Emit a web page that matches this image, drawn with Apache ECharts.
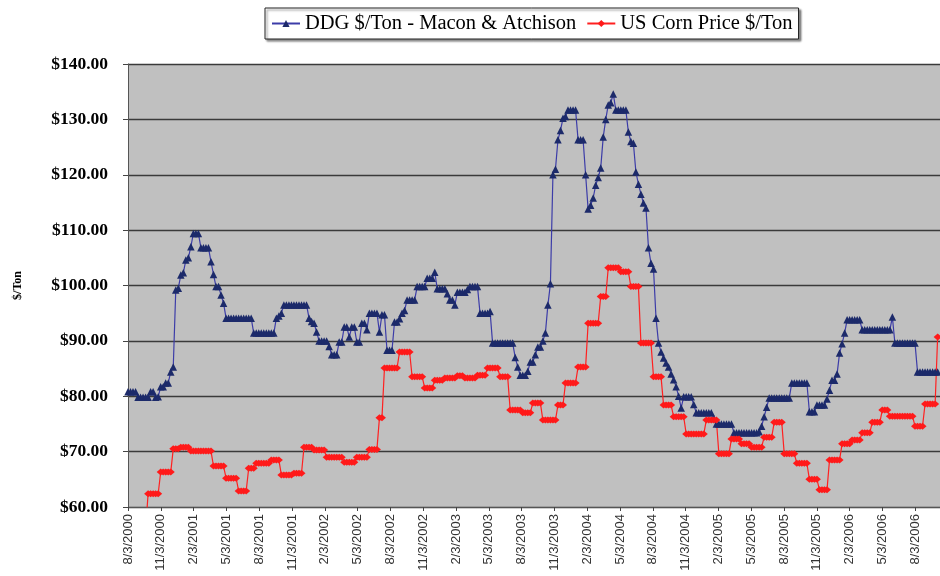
<!DOCTYPE html>
<html>
<head>
<meta charset="utf-8">
<script src="https://cdn.jsdelivr.net/npm/echarts@6/dist/echarts.min.js"></script>
<style>
html,body{margin:0;padding:0;background:#fff;}
#chart{width:940px;height:576px;}
</style>
</head>
<body>
<div id="chart"></div>
<script>
// Quarterly tick labels on the date axis
const tickLabels = ['8/3/2000','11/3/2000','2/3/2001','5/3/2001','8/3/2001','11/3/2001','2/3/2002','5/3/2002','8/3/2002','11/3/2002','2/3/2003','5/3/2003','8/3/2003','11/3/2003','2/3/2004','5/3/2004','8/3/2004','11/3/2004','2/3/2005','5/3/2005','8/3/2005','11/3/2005','2/3/2006','5/3/2006','8/3/2006'];
const seriesNames = ['DDG $/Ton - Macon & Atchison', 'US Corn Price $/Ton'];

// Weekly prices starting 8/3/2000
const ddgPrices = [
 80.8,80.8,80.8,80.8,79.8,79.8,79.8,79.8,79.8,80.8,
 80.8,79.8,79.9,81.7,81.7,82.4,82.4,84.4,85.3,99.2,
 99.5,101.9,102.3,104.6,105.0,107.0,109.4,109.4,109.4,106.8,
 106.8,106.8,106.8,104.3,102.0,99.8,99.8,98.3,96.8,94.1,
 94.1,94.1,94.1,94.1,94.1,94.1,94.1,94.1,94.1,94.1,
 91.4,91.4,91.4,91.4,91.4,91.4,91.4,91.4,91.4,94.1,
 94.5,95.0,96.5,96.5,96.5,96.5,96.5,96.5,96.5,96.5,
 96.5,96.5,94.1,93.5,93.2,91.6,90.0,90.0,90.0,90.0,
 89.0,87.5,87.5,87.5,89.8,89.8,92.5,92.5,90.7,92.5,
 92.5,89.8,89.8,93.2,93.2,92.0,95.0,95.0,95.0,95.0,
 91.6,94.7,94.7,88.3,88.3,88.3,93.4,93.4,94.0,95.0,
 95.5,97.4,97.4,97.4,97.4,99.8,99.8,99.8,99.8,101.3,
 101.3,101.3,102.4,99.4,99.4,99.4,99.4,98.5,97.4,97.4,
 96.5,98.8,98.8,98.8,98.8,99.3,99.8,99.8,99.8,99.8,
 95.0,95.0,95.0,95.0,95.3,89.6,89.6,89.6,89.6,89.6,
 89.6,89.6,89.6,89.6,87.0,85.3,83.8,83.8,83.8,84.5,
 86.2,86.2,87.5,88.9,88.9,90.0,91.4,96.5,100.3,120.0,
 121.0,126.3,128.0,130.2,130.5,131.7,131.7,131.7,131.7,126.3,
 126.3,126.3,120.0,113.8,114.5,115.8,118.1,119.5,121.2,126.8,
 130.0,132.6,133.0,134.6,131.7,131.7,131.7,131.7,131.7,127.7,
 126.0,125.7,120.5,118.3,116.5,114.9,114.0,106.8,104.0,103.0,
 94.1,89.6,88.0,86.9,86.0,85.3,84.0,83.0,81.7,80.0,
 77.9,79.9,79.9,79.9,79.9,78.5,77.0,77.0,77.0,77.0,
 77.0,77.0,77.0,76.0,75.0,75.0,75.0,75.0,75.0,75.0,
 75.0,73.4,73.4,73.4,73.4,73.4,73.4,73.4,73.4,73.4,
 73.4,73.6,74.6,76.3,78.0,79.7,79.7,79.7,79.7,79.7,
 79.7,79.7,79.7,79.7,82.4,82.4,82.4,82.4,82.4,82.4,
 82.4,77.2,77.2,77.2,78.4,78.4,78.4,78.4,79.5,81.1,
 82.9,82.9,84.0,87.8,89.5,91.4,93.8,93.8,93.8,93.8,
 93.8,93.8,92.0,92.0,92.0,92.0,92.0,92.0,92.0,92.0,
 92.0,92.0,92.0,92.0,94.3,89.6,89.6,89.6,89.6,89.6,
 89.6,89.6,89.6,89.6,84.4,84.4,84.4,84.4,84.4,84.4,
 84.4,84.4,84.4
];
const cornPrices = [
 null,null,null,null,null,null,null,56.0,62.4,62.4,
 62.4,62.4,62.4,66.3,66.3,66.3,66.3,66.3,70.5,70.5,
 70.5,70.8,70.8,70.8,70.8,70.1,70.1,70.1,70.1,70.1,
 70.1,70.1,70.1,70.1,67.4,67.4,67.4,67.4,67.4,65.2,
 65.2,65.2,65.2,65.2,62.9,62.9,62.9,62.9,67.0,67.0,
 67.0,67.9,67.9,67.9,67.9,67.9,67.9,68.5,68.5,68.5,
 68.5,65.8,65.8,65.8,65.8,65.8,66.1,66.1,66.1,66.1,
 70.8,70.8,70.8,70.8,70.3,70.3,70.3,70.3,70.3,69.0,
 69.0,69.0,69.0,69.0,69.0,69.0,68.1,68.1,68.1,68.1,
 68.1,69.0,69.0,69.0,69.0,69.0,70.4,70.4,70.4,70.4,
 76.1,76.1,85.1,85.1,85.1,85.1,85.1,85.1,88.0,88.0,
 88.0,88.0,88.0,83.5,83.5,83.5,83.5,83.5,81.5,81.5,
 81.5,81.5,82.9,82.9,82.9,82.9,83.3,83.3,83.3,83.3,
 83.3,83.7,83.7,83.7,83.3,83.3,83.3,83.3,83.3,83.8,
 83.8,83.8,83.8,85.1,85.1,85.1,85.1,85.1,83.5,83.5,
 83.5,83.5,77.5,77.5,77.5,77.5,77.5,77.0,77.0,77.0,
 77.0,78.8,78.8,78.8,78.8,75.7,75.7,75.7,75.7,75.7,
 75.7,78.4,78.4,78.4,82.4,82.4,82.4,82.4,82.4,85.3,
 85.3,85.3,85.3,93.2,93.2,93.2,93.2,93.2,98.0,98.0,
 98.0,103.2,103.2,103.2,103.2,103.2,102.5,102.5,102.5,102.5,
 99.8,99.8,99.8,99.8,89.6,89.6,89.6,89.6,89.6,83.5,
 83.5,83.5,83.5,78.4,78.4,78.4,78.4,76.3,76.3,76.3,
 76.3,76.3,73.2,73.2,73.2,73.2,73.2,73.2,73.2,73.2,
 75.7,75.7,75.7,75.7,75.7,69.6,69.6,69.6,69.6,69.6,
 72.3,72.3,72.3,72.3,71.4,71.4,71.4,71.4,70.8,70.8,
 70.8,70.8,70.8,72.6,72.6,72.6,72.6,75.3,75.3,75.3,
 75.3,69.6,69.6,69.6,69.6,69.6,67.9,67.9,67.9,67.9,
 67.9,65.0,65.0,65.0,65.0,63.1,63.1,63.1,63.1,68.5,
 68.5,68.5,68.5,68.5,71.4,71.4,71.4,71.4,72.1,72.1,
 72.1,72.1,73.4,73.4,73.4,73.4,75.3,75.3,75.3,75.3,
 77.5,77.5,77.5,76.4,76.4,76.4,76.4,76.4,76.4,76.4,
 76.4,76.4,76.4,74.6,74.6,74.6,74.6,78.6,78.6,78.6,
 78.6,78.6,90.7
];

// x position of each weekly observation, in months after 8/3/2000
const DAYS_PER_MONTH = 30.4375;
const toPairs = arr => arr.map((v, i) => [i * 7 / DAYS_PER_MONTH, v]);
const tickMonths = tickLabels.map((_, k) => k * 3);

const chart = echarts.init(document.getElementById('chart'), null, {renderer: 'canvas'});
chart.setOption({
  animation: false,
  backgroundColor: '#ffffff',
  legend: {
    left: 265, top: 8,
    padding: [5, 6, 5, 6],
    itemWidth: 28, itemHeight: 9, itemGap: 10,
    backgroundColor: '#ffffff',
    borderColor: '#222', borderWidth: 1,
    shadowColor: 'rgba(0,0,0,0.45)', shadowBlur: 2, shadowOffsetX: 2, shadowOffsetY: 2,
    textStyle: {fontFamily: 'Liberation Serif', fontSize: 20.5, color: '#000'},
    data: seriesNames
  },
  grid: {
    left: 128, right: 0, top: 64, bottom: 69,
    show: true, backgroundColor: '#c0c0c0', borderWidth: 0
  },
  xAxis: {
    type: 'value', min: 0, max: 74.27, interval: 3,
    axisLine: {show: true, onZero: false, lineStyle: {color: '#555', width: 1}},
    axisTick: {show: true, length: 4, lineStyle: {color: '#444'}, customValues: tickMonths},
    splitLine: {show: false},
    axisLabel: {
      customValues: tickMonths,
      rotate: 90, margin: 7,
      fontFamily: 'Liberation Sans', fontSize: 13, color: '#333',
      formatter: v => tickLabels[Math.round(v / 3)] || ''
    }
  },
  yAxis: {
    type: 'value', min: 60, max: 140, interval: 10,
    name: '$/Ton', nameLocation: 'middle', nameGap: 104, nameRotate: 90,
    nameTextStyle: {fontFamily: 'Liberation Serif', fontWeight: 'bold', fontSize: 12, color: '#000'},
    axisLine: {show: true, lineStyle: {color: '#555', width: 1}},
    axisTick: {show: true, length: 5, lineStyle: {color: '#444'}},
    splitLine: {show: true, lineStyle: {color: '#3a3a3a', width: 1.4}},
    axisLabel: {
      margin: 20,
      fontFamily: 'Liberation Serif', fontWeight: 'bold', fontSize: 17.5, color: '#000',
      formatter: v => '$' + v.toFixed(2)
    }
  },
  series: [
    {
      name: seriesNames[0], type: 'line',
      data: toPairs(ddgPrices),
      symbol: 'triangle', symbolSize: 7.5, showSymbol: true, showAllSymbol: true,
      itemStyle: {color: '#1c2a6a'},
      lineStyle: {color: '#3c3ca8', width: 1.2},
      clip: true
    },
    {
      name: seriesNames[1], type: 'line',
      data: toPairs(cornPrices),
      symbol: 'diamond', symbolSize: [8, 7], showSymbol: true, showAllSymbol: true,
      itemStyle: {color: '#ff1a1a'},
      lineStyle: {color: '#ff2020', width: 1.2},
      connectNulls: false,
      clip: true
    }
  ]
});
</script>
</body>
</html>
